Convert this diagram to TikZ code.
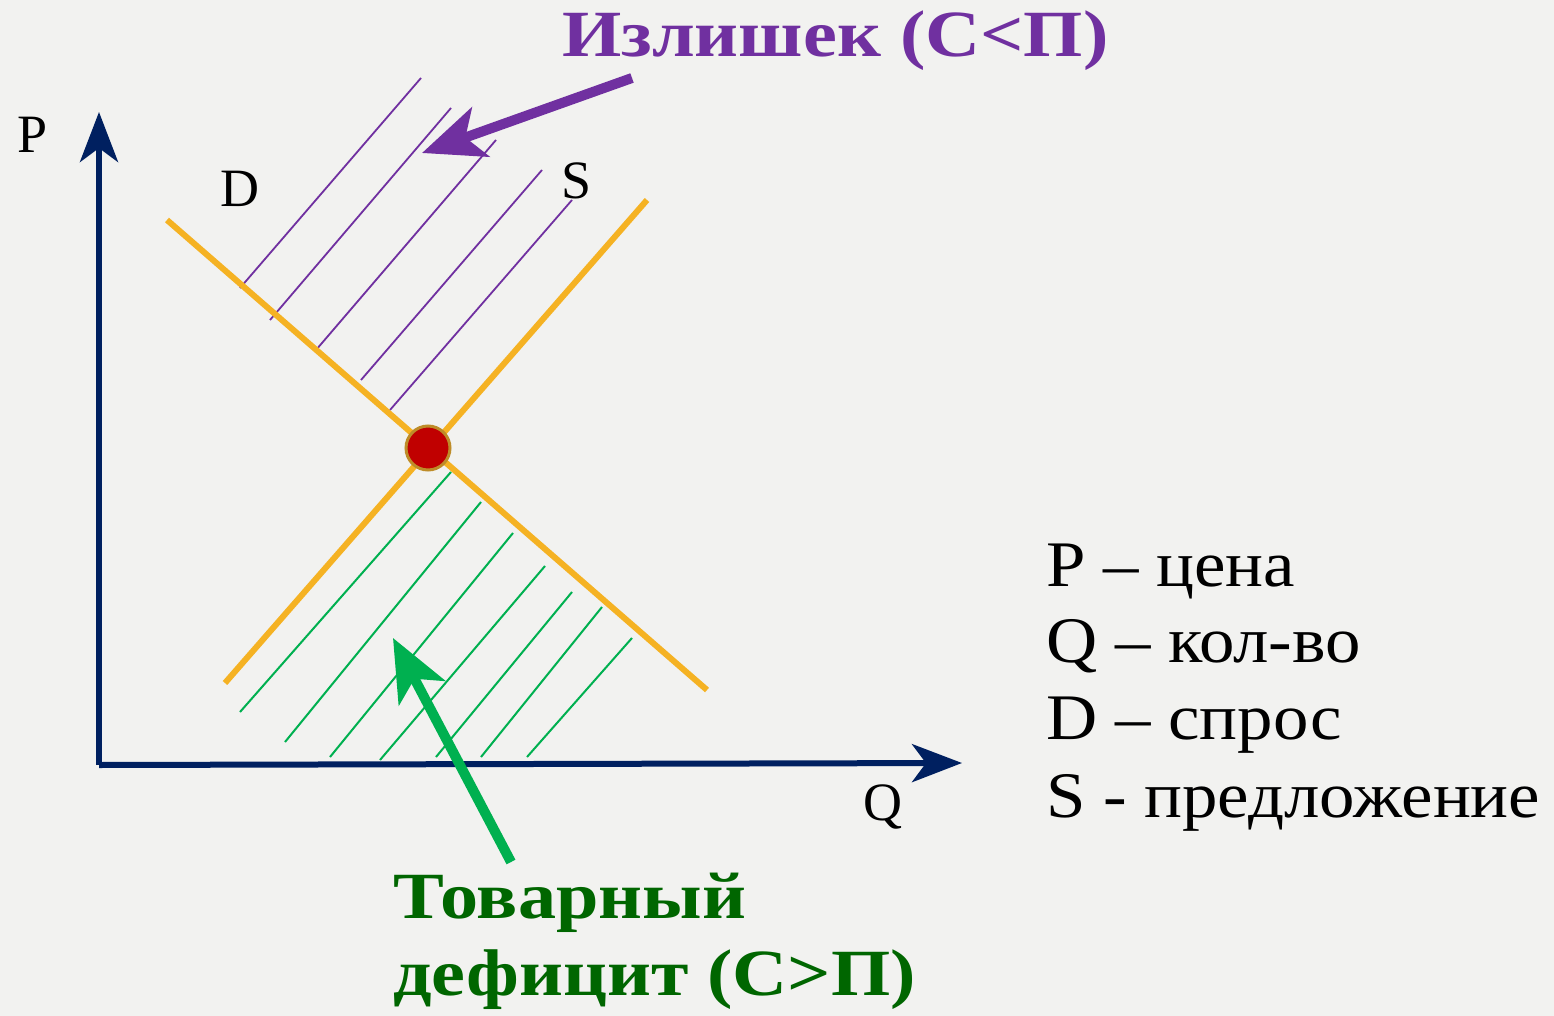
\documentclass[tikz,border=0pt]{standalone}
\usepackage{fontspec}
\setmainfont{Liberation Serif}
\usetikzlibrary{arrows.meta}
\definecolor{bg}{RGB}{242,242,240}
\definecolor{navy}{RGB}{0,32,96}
\definecolor{curve}{RGB}{245,178,35}
\definecolor{purp}{RGB}{112,48,160}
\definecolor{grn}{RGB}{0,176,80}
\definecolor{dgrn}{RGB}{0,102,0}
\definecolor{dotred}{RGB}{192,0,0}
\definecolor{dotrim}{RGB}{190,140,40}
\tikzset{
  axis/.style={draw=navy,line width=6pt,-{Stealth[length=50pt,width=38pt,inset=14pt]}},
  curveline/.style={draw=curve,line width=6pt},
  phatch/.style={draw=purp,line width=1.8pt},
  ghatch/.style={draw=grn,line width=2pt},
  bigarrow/.style={line width=10pt,-{Stealth[length=62pt,width=52pt,inset=16pt]}},
  lbl/.style={anchor=base west,inner sep=0pt,font=\fontsize{54}{60}\selectfont},
  legend/.style={anchor=base west,inner sep=0pt,xscale=1.09,transform shape,font=\fontsize{65}{70}\selectfont},
  title/.style={anchor=base west,inner sep=0pt,xscale=1.155,transform shape,font=\bfseries\fontsize{66}{77}\selectfont}
}
\begin{document}
\begin{tikzpicture}[x=1pt,y=-1pt]
\fill[bg] (0,0) rectangle (1554,1016);
\useasboundingbox (0,0) rectangle (1554,1016);
% coordinates
\coordinate (O) at (99,765);
\coordinate (ytop) at (99,112);
\coordinate (xend) at (962,763);
\coordinate (D1) at (167,220);
\coordinate (D2) at (707,690);
\coordinate (S1) at (225,683);
\coordinate (S2) at (647,200);
% hatching (surplus)
\draw[phatch] (240,288) -- (421,78);
\draw[phatch] (270,320) -- (451,108);
\draw[phatch] (316,350) -- (496,140);
\draw[phatch] (361,380) -- (542,170);
\draw[phatch] (390,410) -- (572,200);
% hatching (shortage)
\draw[ghatch] (451,472) -- (240,712);
\draw[ghatch] (481,502) -- (285,742);
\draw[ghatch] (513,533) -- (330,757);
\draw[ghatch] (545,566) -- (380,760);
\draw[ghatch] (572,592) -- (436,757);
\draw[ghatch] (602,607) -- (481,757);
\draw[ghatch] (632,638) -- (527,757);
% curves
\draw[curveline] (D1) -- (D2);
\draw[curveline] (S1) -- (S2);
% axes
\draw[axis] (O) -- (ytop);
\draw[axis] (O) -- (xend);
% equilibrium
\node (E) [circle,fill=dotred,draw=dotrim,line width=3pt,minimum size=44pt,inner sep=0pt] at (428,448) {};
% labels
\node[lbl] (lP) at (17,153) {P};
\node[lbl] (lD) at (220,207) {D};
\node[lbl] (lS) at (561,199) {S};
\node[lbl] (lQ) at (863,820) {Q};
% legend
\node[legend] (g1) at (1046,586) {P – цена};
\node[legend] (g2) at (1046,662) {Q – кол-во};
\node[legend] (g3) at (1046,739) {D – спрос};
\node[legend] (g4) at (1046,817) {S - предложение};
% titles
\node[title,text=purp] (surp) at (562,57) {Излишек (С<П)};
\node[title,text=dgrn] (def1) at (393,918) {Товарный};
\node[title,text=dgrn] (def2) at (393,995) {дефицит (С>П)};
% arrows
\coordinate (pa1) at (632,78);
\coordinate (pa2) at (422,153);
\coordinate (ga1) at (511,862);
\coordinate (ga2) at (393,638);
\draw[bigarrow,draw=purp,fill=purp] (pa1) -- (pa2);
\draw[bigarrow,draw=grn,fill=grn] (ga1) -- (ga2);
\end{tikzpicture}
\end{document}
